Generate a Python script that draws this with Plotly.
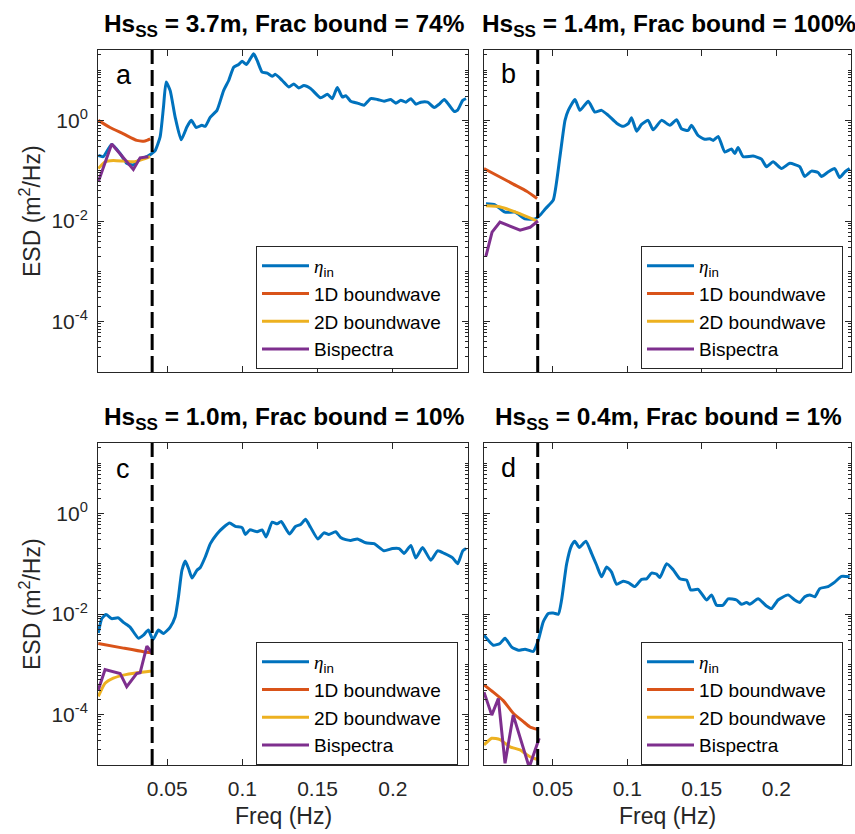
import plotly.graph_objects as go

# ---------------- data ----------------
XLIM = [0.004, 0.25]
YLIM = [1e-5, 25]
CUTOFF = 0.04

titles = ["Hs<sub>SS</sub> = 3.7m, Frac bound = 74%",
          "Hs<sub>SS</sub> = 1.4m, Frac bound = 100%",
          "Hs<sub>SS</sub> = 1.0m, Frac bound = 10%",
          "Hs<sub>SS</sub> = 0.4m, Frac bound = 1%"]
letters = ["a", "b", "c", "d"]
series_names = ['<span style="font-family:Liberation Serif"><i>η</i></span><sub>in</sub>',
                "1D boundwave&nbsp;&nbsp;", "2D boundwave&nbsp;&nbsp;", "Bispectra"]
x_tickvals = [0.05, 0.1, 0.15, 0.2]
x_ticktext = ["0.05", "0.1", "0.15", "0.2"]
y_tickvals = [1e-4, 1e-2, 1e0]
y_ticktext = ["10<sup>-4</sup>", "10<sup>-2</sup>", "10<sup>0</sup>"]

# panel a
a_f_eta = [0.0042,0.0075,0.0131,0.0187,0.0231,0.0275,0.032,0.0365,0.0398,0.042,0.0453,0.0475,0.0493,0.052,0.0553,0.0593,0.0631,0.066,0.0693,0.0731,0.0753,0.0787,0.0831,0.0875,0.0909,0.0942,0.0975,0.0998,0.1027,0.1053,0.1075,0.1098,0.1131,0.1165,0.1198,0.122,0.1265,0.1309,0.1342,0.1375,0.1409,0.1453,0.152,0.1565,0.1598,0.1631,0.1665,0.1687,0.172,0.1765,0.1809,0.1853,0.1898,0.1942,0.1987,0.202,0.2053,0.2087,0.212,0.2153,0.2187,0.2231,0.2275,0.2309,0.2342,0.2375,0.2409,0.2431,0.2465,0.2487]
a_v_eta = [0.20,0.19,0.33,0.22,0.14,0.13,0.17,0.19,0.22,0.25,0.47,1.8,5.8,3.9,1.16,0.41,0.74,1.0,0.72,0.80,0.76,1.16,1.58,3.9,6.2,11.4,12.9,15.0,12.9,16.8,21,15.5,9.1,8.7,7.5,8.2,6.2,4.6,5.3,4.4,4.9,4.3,2.8,3.3,2.7,4.5,2.9,3.1,2.4,2.2,2.0,2.7,2.6,2.4,2.6,2.2,2.5,2.3,2.7,2.1,2.3,2.3,1.8,2.1,2.6,2.0,1.5,1.6,2.5,2.7]
a_f_1d = [0.0042,0.012,0.0209,0.0298,0.0353,0.0387]
a_v_1d = [1.0,0.72,0.54,0.40,0.39,0.43]
a_f_2d = [0.0042,0.0087,0.0142,0.0209,0.0275,0.0342,0.0387]
a_v_2d = [0.11,0.15,0.16,0.155,0.15,0.17,0.19]
a_f_bis = [0.0042,0.0131,0.0275,0.032,0.0375]
a_v_bis = [0.06,0.34,0.106,0.18,0.19]

# panel b
b_f_eta = [0.0053,0.0114,0.0181,0.0248,0.0315,0.0382,0.0415,0.0455,0.0504,0.0549,0.0583,0.0605,0.065,0.0683,0.0739,0.0783,0.0828,0.0873,0.0929,0.0973,0.1007,0.1029,0.1063,0.1096,0.114,0.1174,0.123,0.1286,0.1331,0.1364,0.1408,0.1431,0.1475,0.152,0.1554,0.1576,0.161,0.1654,0.1699,0.1721,0.1743,0.1777,0.1844,0.19,0.1933,0.1978,0.2034,0.209,0.2156,0.219,0.2235,0.2279,0.2302,0.2346,0.2391,0.2424,0.2458,0.2491]
b_v_eta = [0.022,0.021,0.015,0.015,0.011,0.011,0.013,0.018,0.026,0.19,1.0,1.58,2.6,1.58,2.4,1.46,1.58,1.26,0.88,0.76,0.86,1.13,0.61,0.83,1.0,0.65,1.0,0.80,1.03,0.68,0.63,0.80,0.50,0.42,0.43,0.40,0.48,0.235,0.27,0.22,0.29,0.19,0.195,0.17,0.12,0.15,0.11,0.14,0.12,0.077,0.098,0.092,0.077,0.094,0.11,0.073,0.094,0.11]
b_f_1d = [0.004,0.0147,0.0236,0.0326,0.0396]
b_v_1d = [0.11,0.075,0.054,0.039,0.028]
b_f_2d = [0.0053,0.015,0.028,0.0395]
b_v_2d = [0.02,0.019,0.014,0.01]
b_f_bis = [0.0053,0.0094,0.0147,0.0215,0.0282,0.0349,0.0402]
b_v_bis = [0.002,0.006,0.0095,0.008,0.0066,0.0075,0.01]

# panel c
c_f_eta = [0.0042,0.0065,0.0093,0.0131,0.0175,0.0209,0.0253,0.0309,0.0342,0.0375,0.0405,0.0442,0.0475,0.052,0.0553,0.0575,0.0598,0.062,0.0642,0.0665,0.0698,0.072,0.0753,0.0787,0.0831,0.0875,0.0915,0.0953,0.0998,0.102,0.1049,0.1098,0.1131,0.1158,0.1198,0.1231,0.1258,0.1313,0.1353,0.1387,0.142,0.1453,0.1502,0.1542,0.1575,0.162,0.1653,0.1687,0.172,0.1765,0.182,0.1875,0.1942,0.1998,0.2042,0.2075,0.212,0.2153,0.2198,0.2253,0.2298,0.2342,0.2398,0.2431,0.2465,0.2487]
c_v_eta = [0.0042,0.0081,0.0098,0.0081,0.0084,0.0068,0.0055,0.0033,0.0038,0.0048,0.0031,0.0048,0.0041,0.0055,0.0088,0.022,0.074,0.113,0.08,0.052,0.074,0.084,0.136,0.25,0.39,0.53,0.64,0.55,0.52,0.38,0.47,0.43,0.47,0.34,0.67,0.62,0.69,0.39,0.55,0.6,0.76,0.53,0.31,0.41,0.38,0.43,0.33,0.30,0.29,0.31,0.26,0.25,0.18,0.2,0.2,0.16,0.23,0.13,0.21,0.117,0.18,0.16,0.13,0.1,0.18,0.2]
c_f_1d = [0.0042,0.0209,0.0342,0.0398]
c_v_1d = [0.0026,0.0021,0.00178,0.0017]
c_f_2d = [0.0042,0.0087,0.0142,0.0209,0.0298,0.0398]
c_v_2d = [0.00023,0.00042,0.00053,0.00061,0.00068,0.00074]
c_f_bis = [0.0042,0.0087,0.0187,0.0231,0.0298,0.032,0.0365,0.0398]
c_v_bis = [0.00031,0.00079,0.00066,0.00036,0.00066,0.00068,0.0023,0.0017]

# panel d
d_f_eta = [0.004,0.0102,0.0147,0.0181,0.0226,0.027,0.0315,0.037,0.0404,0.0437,0.0471,0.0504,0.0538,0.056,0.0594,0.0627,0.0649,0.0678,0.0723,0.0761,0.0795,0.0828,0.0862,0.0895,0.0929,0.0973,0.1007,0.1051,0.1096,0.113,0.1163,0.1197,0.1219,0.1264,0.1308,0.1353,0.1398,0.1426,0.1475,0.1532,0.1565,0.1599,0.1643,0.1676,0.1733,0.1766,0.18,0.1822,0.1877,0.1933,0.1967,0.2011,0.2078,0.2123,0.2157,0.219,0.2224,0.2257,0.2291,0.2346,0.2391,0.2436,0.2491]
d_v_eta = [0.0038,0.0024,0.0026,0.0033,0.0022,0.0019,0.002,0.0018,0.003,0.007,0.0102,0.0105,0.0099,0.019,0.1,0.23,0.28,0.21,0.28,0.16,0.093,0.055,0.086,0.068,0.039,0.045,0.042,0.035,0.049,0.05,0.065,0.062,0.053,0.1,0.076,0.05,0.047,0.03,0.031,0.019,0.024,0.015,0.015,0.020,0.019,0.0156,0.017,0.0156,0.02,0.0145,0.0128,0.019,0.024,0.019,0.017,0.022,0.024,0.022,0.032,0.035,0.043,0.056,0.055]
d_f_1d = [0.004,0.0102,0.0169,0.0236,0.0303,0.0348,0.0397]
d_v_1d = [0.00039,0.00028,0.00019,0.000107,0.000073,0.000057,0.000051]
d_f_2d = [0.004,0.0092,0.0147,0.0214,0.0281,0.0348,0.0393]
d_v_2d = [0.000025,0.000034,0.000032,0.000023,0.00002,0.0000146,0.000013]
d_f_bis = [0.004,0.0092,0.0136,0.0181,0.0236,0.0343,0.041]
d_v_bis = [0.00028,0.000098,0.00021,0.0000108,0.000098,0.000009,0.000034]

panel_data = [
    [(a_f_eta, a_v_eta), (a_f_1d, a_v_1d), (a_f_2d, a_v_2d), (a_f_bis, a_v_bis)],
    [(b_f_eta, b_v_eta), (b_f_1d, b_v_1d), (b_f_2d, b_v_2d), (b_f_bis, b_v_bis)],
    [(c_f_eta, c_v_eta), (c_f_1d, c_v_1d), (c_f_2d, c_v_2d), (c_f_bis, c_v_bis)],
    [(d_f_eta, d_v_eta), (d_f_1d, d_v_1d), (d_f_2d, d_v_2d), (d_f_bis, d_v_bis)],
]

# ---------------- styling / layout ----------------
W, H = 855, 834
COLORS = ["#0072BD", "#D95319", "#EDB120", "#7E2F8E"]
AX = "#262626"
FONT = "Liberation Sans, Arial, Helvetica, sans-serif"

# pixel boxes of the four axes (left, right, top, bottom)
boxes = [(98, 468, 50, 372), (484, 851, 50, 372), (98, 468, 443, 765), (484, 851, 443, 765)]
legend_pos = [(256, 246), (641, 246), (256, 642), (641, 642)]
letter_pos = [(114, 75), (499, 74), (114, 469), (499, 468)]

def px(x):
    return x / W

def py(y):
    return 1 - y / H

fig = go.Figure()

minor_vals = []
for k in range(-5, 2):
    for m in range(1, 10):
        v = m * 10.0 ** k
        if v <= YLIM[1] and v not in y_tickvals:
            minor_vals.append(v)

for i in range(4):
    xa = "x" if i == 0 else f"x{i+1}"
    ya = "y" if i == 0 else f"y{i+1}"
    lg = "legend" if i == 0 else f"legend{i+1}"
    for j, (f, v) in enumerate(panel_data[i]):
        shape = "linear" if j == 3 else "spline"
        fig.add_trace(go.Scatter(
            x=f, y=v, mode="lines", name=series_names[j],
            line=dict(color=COLORS[j], width=3, shape=shape, smoothing=0.5),
            xaxis=xa, yaxis=ya, legend=lg, showlegend=True))
    fig.add_trace(go.Scatter(
        x=[CUTOFF, CUTOFF], y=YLIM, mode="lines",
        line=dict(color="black", width=3, dash="16px,6px"),
        xaxis=xa, yaxis=ya, showlegend=False, hoverinfo="skip"))

layout = dict(
    width=W, height=H, margin=dict(l=0, r=0, t=0, b=0),
    paper_bgcolor="white", plot_bgcolor="white",
    font=dict(family=FONT, size=21, color=AX),
    showlegend=True,
)

for i, (l, r, t, b) in enumerate(boxes):
    sx = "" if i == 0 else str(i + 1)
    xa_key, ya_key = "xaxis" + sx, "yaxis" + sx
    layout[xa_key] = dict(
        domain=[px(l), px(r)], anchor="y" + sx, range=XLIM,
        tickvals=x_tickvals, ticktext=x_ticktext,
        showticklabels=(i >= 2), ticks="inside", ticklen=6, tickwidth=1,
        tickcolor=AX, showline=True, linecolor=AX, linewidth=1,
        mirror="allticks", showgrid=False, zeroline=False,
        tickfont=dict(size=21, color=AX), ticklabelstandoff=5,
    )
    layout[ya_key] = dict(
        domain=[py(b), py(t)], anchor="x" + sx, type="log",
        range=[-5, 1.398], tickvals=y_tickvals, ticktext=y_ticktext,
        showticklabels=(i % 2 == 0), ticks="inside", ticklen=6, tickwidth=1,
        tickcolor=AX, showline=True, linecolor=AX, linewidth=1,
        mirror="allticks", showgrid=False, zeroline=False,
        tickfont=dict(size=21, color=AX), ticklabelstandoff=5,
        minor=dict(tickmode="array", tickvals=minor_vals, ticks="inside",
                   ticklen=3, tickcolor=AX, showgrid=False),
    )
    lg = "legend" if i == 0 else f"legend{i+1}"
    lx, ly = legend_pos[i]
    layout[lg] = dict(
        x=px(lx), y=py(ly), xanchor="left", yanchor="top",
        bgcolor="white", bordercolor=AX, borderwidth=1,
        font=dict(family=FONT, size=19, color="black"),
        itemwidth=47, tracegroupgap=0, traceorder="normal",
    )

annotations = []
for i, (l, r, t, b) in enumerate(boxes):
    annotations.append(dict(
        text="<b>" + titles[i] + "</b>", x=px((l + r) / 2 + 1), y=py(t - 25),
        xref="paper", yref="paper", xanchor="center", yanchor="middle",
        showarrow=False, font=dict(family=FONT, size=24.4, color="black")))
    lx, ly = letter_pos[i]
    annotations.append(dict(
        text=letters[i], x=px(lx), y=py(ly), xref="paper", yref="paper",
        xanchor="left", yanchor="middle", showarrow=False,
        font=dict(family=FONT, size=27, color="black")))
for (l, r, t, b) in [boxes[0], boxes[2]]:
    annotations.append(dict(
        text="ESD (m<sup>2</sup>/Hz)", x=px(30), y=py((t + b) / 2),
        xref="paper", yref="paper", xanchor="center", yanchor="middle",
        textangle=-90, showarrow=False, font=dict(family=FONT, size=23, color=AX)))
for (l, r, t, b) in [boxes[2], boxes[3]]:
    annotations.append(dict(
        text="Freq (Hz)", x=px((l + r) / 2), y=py(816),
        xref="paper", yref="paper", xanchor="center", yanchor="middle",
        showarrow=False, font=dict(family=FONT, size=23, color=AX)))
layout["annotations"] = annotations

fig.update_layout(**layout)
fig.write_html("out.html")
